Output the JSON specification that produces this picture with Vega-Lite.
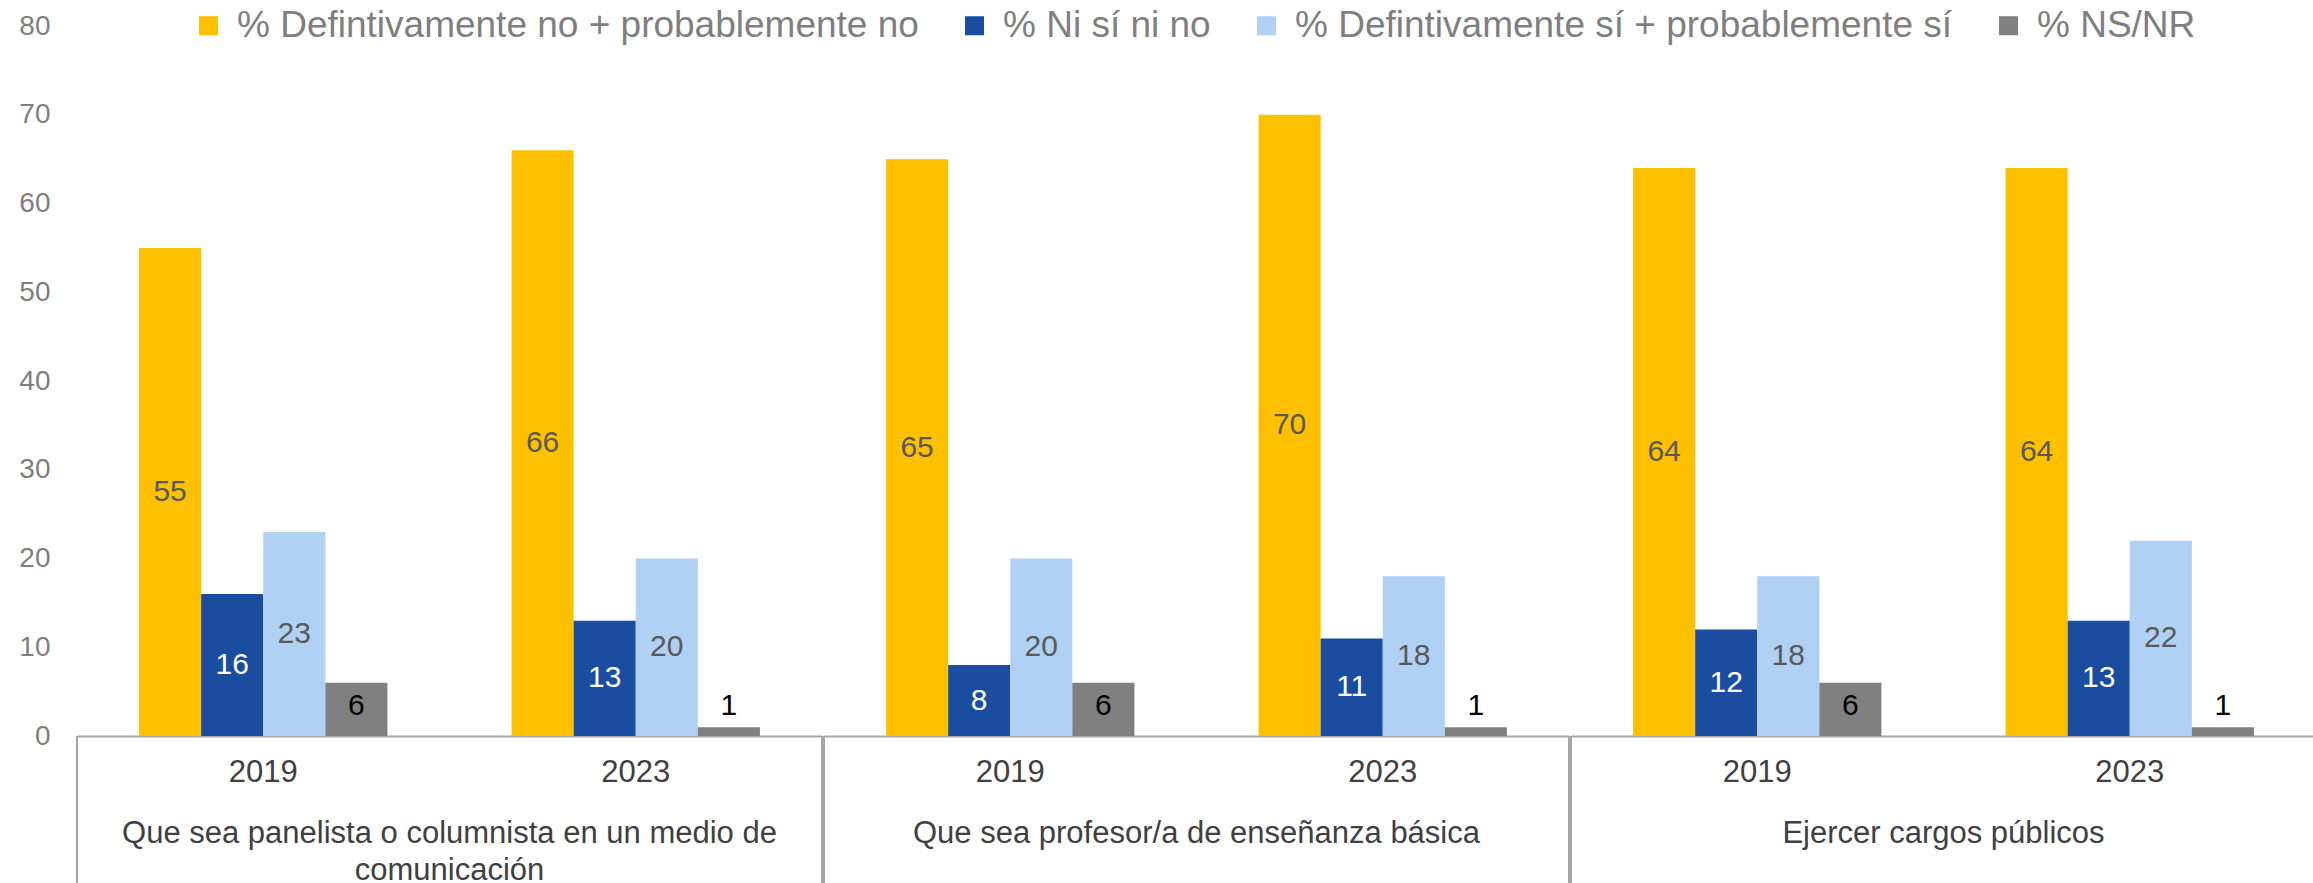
{
  "$schema": "https://vega.github.io/schema/vega-lite/v6.json",
  "padding": {"left": 18, "top": 7, "right": 0, "bottom": 0},
  "config": {"font": "Liberation Sans", "view": {"stroke": null}},
  "data": {"values": [
    {"cat": "Que sea panelista o columnista en un medio de|comunicación", "year": "2019", "s": "% Defintivamente no + probablemente no", "v": 55},
    {"cat": "Que sea panelista o columnista en un medio de|comunicación", "year": "2019", "s": "% Ni sí ni no", "v": 16},
    {"cat": "Que sea panelista o columnista en un medio de|comunicación", "year": "2019", "s": "% Defintivamente sí + probablemente sí", "v": 23},
    {"cat": "Que sea panelista o columnista en un medio de|comunicación", "year": "2019", "s": "% NS/NR", "v": 6},
    {"cat": "Que sea panelista o columnista en un medio de|comunicación", "year": "2023", "s": "% Defintivamente no + probablemente no", "v": 66},
    {"cat": "Que sea panelista o columnista en un medio de|comunicación", "year": "2023", "s": "% Ni sí ni no", "v": 13},
    {"cat": "Que sea panelista o columnista en un medio de|comunicación", "year": "2023", "s": "% Defintivamente sí + probablemente sí", "v": 20},
    {"cat": "Que sea panelista o columnista en un medio de|comunicación", "year": "2023", "s": "% NS/NR", "v": 1},
    {"cat": "Que sea profesor/a de enseñanza básica", "year": "2019", "s": "% Defintivamente no + probablemente no", "v": 65},
    {"cat": "Que sea profesor/a de enseñanza básica", "year": "2019", "s": "% Ni sí ni no", "v": 8},
    {"cat": "Que sea profesor/a de enseñanza básica", "year": "2019", "s": "% Defintivamente sí + probablemente sí", "v": 20},
    {"cat": "Que sea profesor/a de enseñanza básica", "year": "2019", "s": "% NS/NR", "v": 6},
    {"cat": "Que sea profesor/a de enseñanza básica", "year": "2023", "s": "% Defintivamente no + probablemente no", "v": 70},
    {"cat": "Que sea profesor/a de enseñanza básica", "year": "2023", "s": "% Ni sí ni no", "v": 11},
    {"cat": "Que sea profesor/a de enseñanza básica", "year": "2023", "s": "% Defintivamente sí + probablemente sí", "v": 18},
    {"cat": "Que sea profesor/a de enseñanza básica", "year": "2023", "s": "% NS/NR", "v": 1},
    {"cat": "Ejercer cargos públicos", "year": "2019", "s": "% Defintivamente no + probablemente no", "v": 64},
    {"cat": "Ejercer cargos públicos", "year": "2019", "s": "% Ni sí ni no", "v": 12},
    {"cat": "Ejercer cargos públicos", "year": "2019", "s": "% Defintivamente sí + probablemente sí", "v": 18},
    {"cat": "Ejercer cargos públicos", "year": "2019", "s": "% NS/NR", "v": 6},
    {"cat": "Ejercer cargos públicos", "year": "2023", "s": "% Defintivamente no + probablemente no", "v": 64},
    {"cat": "Ejercer cargos públicos", "year": "2023", "s": "% Ni sí ni no", "v": 13},
    {"cat": "Ejercer cargos públicos", "year": "2023", "s": "% Defintivamente sí + probablemente sí", "v": 22},
    {"cat": "Ejercer cargos públicos", "year": "2023", "s": "% NS/NR", "v": 1}
  ]},
  "facet": {
    "column": {
      "field": "cat",
      "type": "nominal",
      "sort": ["Que sea panelista o columnista en un medio de|comunicación", "Que sea profesor/a de enseñanza básica", "Ejercer cargos públicos"],
      "header": {"labels": false, "title": null}
    }
  },
  "spacing": 0,
  "resolve": {"axis": {"x": "independent"}},
  "spec": {
    "width": 745,
    "height": 710,
    "transform": [{"calculate": "max(datum.v / 2, 3.4)", "as": "mid"}],
    "encoding": {
      "x": {
        "field": "year",
        "type": "nominal",
        "scale": {"paddingInner": 0, "paddingOuter": 0},
        "axis": {
          "title": null,
          "labelAngle": 0,
          "ticks": false,
          "domainColor": "#a6a6a6",
          "domainWidth": 2,
          "labelFontSize": 31,
          "labelColor": "#404040",
          "labelPadding": 21
        }
      }
    },
    "layer": [
      {
        "mark": {"type": "bar"},
        "encoding": {
          "xOffset": {
            "field": "s",
            "type": "nominal",
            "sort": ["% Defintivamente no + probablemente no", "% Ni sí ni no", "% Defintivamente sí + probablemente sí", "% NS/NR"],
            "scale": {"paddingInner": 0, "paddingOuter": 1.1}
          },
          "y": {
            "field": "v",
            "type": "quantitative",
            "scale": {"domain": [0, 80]},
            "axis": {
              "title": null,
              "values": [0, 10, 20, 30, 40, 50, 60, 70, 80],
              "domain": false,
              "ticks": false,
              "grid": false,
              "labelFontSize": 28,
              "labelColor": "#7f7f7f",
              "labelPadding": 26
            }
          },
          "color": {
            "field": "s",
            "type": "nominal",
            "scale": {
              "domain": ["% Defintivamente no + probablemente no", "% Ni sí ni no", "% Defintivamente sí + probablemente sí", "% NS/NR"],
              "range": ["#FFC000", "#1A4D9F", "#B0D0F4", "#808080"]
            },
            "legend": {
              "orient": "none",
              "legendX": 113,
              "legendY": -19,
              "direction": "horizontal",
              "title": null,
              "symbolType": "square",
              "symbolSize": 361,
              "symbolStrokeWidth": 0,
              "symbolOpacity": 1,
              "labelFontSize": 37,
              "labelColor": "#7f7f7f",
              "labelOffset": 10,
              "columnPadding": 37,
              "padding": 0,
              "labelLimit": 1000
            }
          }
        }
      },
      {
        "mark": {"type": "text", "fontSize": 30, "baseline": "middle", "align": "center"},
        "encoding": {
          "xOffset": {
            "field": "s",
            "type": "nominal",
            "sort": ["% Defintivamente no + probablemente no", "% Ni sí ni no", "% Defintivamente sí + probablemente sí", "% NS/NR"]
          },
          "y": {"field": "mid", "type": "quantitative"},
          "text": {"field": "v", "type": "quantitative"},
          "color": {
            "condition": [
              {"test": "datum.s === '% Ni sí ni no'", "value": "#ffffff"},
              {"test": "datum.s === '% NS/NR'", "value": "#000000"}
            ],
            "value": "#595959"
          }
        }
      },
      {
        "transform": [{"filter": "datum.s === '% NS/NR' && datum.year === '2019'"}],
        "mark": {"type": "rule", "color": "#a6a6a6", "strokeWidth": 2},
        "encoding": {
          "x": {"field": "year", "type": "nominal", "bandPosition": 0},
          "y": {"datum": 0},
          "y2": {"datum": -17}
        }
      },
      {
        "transform": [{"filter": "datum.s === '% NS/NR' && datum.year === '2023'"}],
        "mark": {"type": "rule", "color": "#a6a6a6", "strokeWidth": 2},
        "encoding": {
          "x": {"field": "year", "type": "nominal", "bandPosition": 1},
          "y": {"datum": 0},
          "y2": {"datum": -17}
        }
      },
      {
        "transform": [{"filter": "datum.s === '% NS/NR' && datum.year === '2023'"}],
        "mark": {"type": "text", "fontSize": 31, "baseline": "top", "align": "center", "color": "#404040", "lineBreak": "|", "lineHeight": 37},
        "encoding": {
          "x": {"field": "year", "type": "nominal", "bandPosition": 0},
          "y": {"datum": -9.4},
          "text": {"field": "cat", "type": "nominal"}
        }
      }
    ]
  }
}
